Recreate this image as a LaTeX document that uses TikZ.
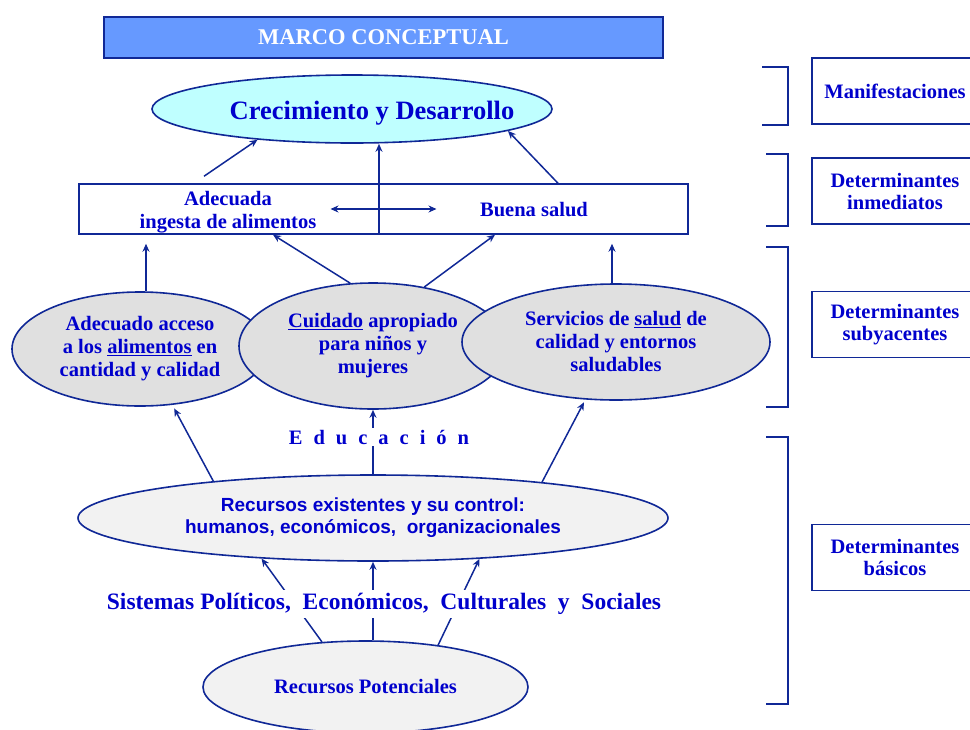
\documentclass[tikz,border=0pt]{standalone}
\usepackage{fontspec}
\setmainfont{Liberation Serif}
\newfontfamily\arialfont{Liberation Sans}
\usetikzlibrary{shapes.geometric,arrows.meta}
\definecolor{azultexto}{RGB}{0,0,204}
\definecolor{azullinea}{RGB}{16,40,150}
\definecolor{azultitulo}{RGB}{102,153,255}
\definecolor{cian}{RGB}{191,255,255}
\definecolor{gris}{RGB}{224,224,224}
\definecolor{grisclaro}{RGB}{242,242,242}

\begin{document}
\begin{tikzpicture}[x=1pt,y=-1pt,
texto/.style={text=azultexto, font={\bfseries\fontsize{20.5}{23}\selectfont}, align=center},
elipse/.style={ellipse, draw=azullinea, line width=1.6pt, fill=gris, inner sep=0pt, texto},
caja/.style={rectangle, draw=azullinea, line width=1.5pt, fill=white, inner sep=0pt, texto},
lateral/.style={caja, minimum width=166pt, minimum height=66pt, font={\bfseries\fontsize{20.5}{22}\selectfont}},
flecha/.style={draw=azullinea, line width=1.5pt, -{Stealth[length=8pt,width=7pt]}},
corchete/.style={draw=azullinea, line width=1.5pt}
]
\useasboundingbox (0,0) rectangle (970,729);
\clip (0,0) rectangle (970,729);
\node[caja, fill=azultitulo, text=white, minimum width=559pt, minimum height=41pt, font={\bfseries\fontsize{22.5}{26}\selectfont}] (titulo) at (383.5,37.5) {MARCO CONCEPTUAL};
\node[elipse, fill=cian, minimum width=400pt, minimum height=68pt, text height=26pt, text depth=6pt, font={\bfseries\fontsize{26.5}{30}\selectfont}] (crec) at (352,109) {\makebox[0pt]{\hspace{40pt}Crecimiento y Desarrollo}};
\node[caja, minimum width=609pt, minimum height=50pt] (ingesta) at (383.5,209) {};
\node[texto] (adecuada) at (228,212) {Adecuada\\ingesta de alimentos};
\node[texto] (buena) at (534,210) {Buena salud};
\node[elipse, minimum width=256pt, minimum height=114pt] (acceso) at (140,349) {Adecuado acceso\\a los \underline{alimentos} en\\cantidad y calidad};
\node[elipse, minimum width=268pt, minimum height=126pt] (cuidado) at (373,346) {\underline{Cuidado} apropiado\\para niños y\\mujeres};
\node[elipse, minimum width=308pt, minimum height=116pt] (servicios) at (616,342) {Servicios de \underline{salud} de\\calidad y entornos\\saludables};
\node[elipse, fill=grisclaro, minimum width=590pt, minimum height=86pt, font={\arialfont\bfseries\fontsize{19}{22}\selectfont}] (recursos) at (373,518) {Recursos existentes y su control:\\humanos, económicos,\ \ organizacionales};
\node[elipse, fill=grisclaro, minimum width=325pt, minimum height=92pt] (potenciales) at (365.5,687) {Recursos Potenciales};

\node[lateral] (manif) at (895,91) {Manifestaciones};
\node[lateral] (inmediatos) at (895,191) {Determinantes\\inmediatos};
\node[lateral] (subyacentes) at (895,324.5) {Determinantes\\subyacentes};
\node[lateral] (basicos) at (895,557.5) {Determinantes\\básicos};
\foreach \ya/\yb/\xa in {67/125/762, 154/226/766, 247/407/766, 437/704/766}
  \draw[corchete] (\xa,\ya) -- (788,\ya) -- (788,\yb) -- (\xa,\yb);

\draw[flecha] ([xshift=-179.5pt,yshift=7pt]ingesta.north) -- (crec.198);
\draw[flecha] ([xshift=174.5pt]ingesta.north) -- (crec.352);
\draw[flecha] ([xshift=-4.5pt]ingesta.south) -- ([xshift=-4.5pt]ingesta.south |- crec.south);
\draw[flecha, {Stealth[length=8pt,width=7pt]}-{Stealth[length=8pt,width=7pt]}] ([xshift=-53pt]ingesta.center) -- ([xshift=53pt]ingesta.center);

\draw[flecha, shorten >=9pt] ([xshift=6pt]acceso.north) -- ([xshift=6pt]acceso.north |- ingesta.south);
\draw[flecha] (cuidado.110) -- ([xshift=-110.5pt]ingesta.south);
\draw[flecha] (cuidado.49) -- ([xshift=111.5pt]ingesta.south);
\draw[flecha, shorten >=9pt] ([xshift=-4pt]servicios.north) -- ([xshift=-4pt]servicios.north |- ingesta.south);

\draw[flecha, shorten >=4pt] (recursos.167) -- (acceso.300);
\draw[flecha] (recursos.north -| cuidado.south) -- (cuidado.south);
\draw[flecha, shorten >=3pt] (recursos.12) -- (servicios.242);

\draw[flecha] (potenciales.134) -- (recursos.200);
\draw[flecha] (potenciales.north -| recursos.south) -- (recursos.south);
\draw[flecha] (potenciales.30) -- (recursos.339);

\node[texto, fill=white, inner sep=2pt] (educacion) at (379,437) {\spaceskip=11pt E d u c a c i ó n};
\node[texto, fill=white, inner sep=3pt, font={\bfseries\fontsize{23.5}{26}\selectfont}] (sistemas) at (384,604) {Sistemas Políticos,\ \ Económicos,\ \ Culturales\ \ y\ \ Sociales};
\end{tikzpicture}
\end{document}
